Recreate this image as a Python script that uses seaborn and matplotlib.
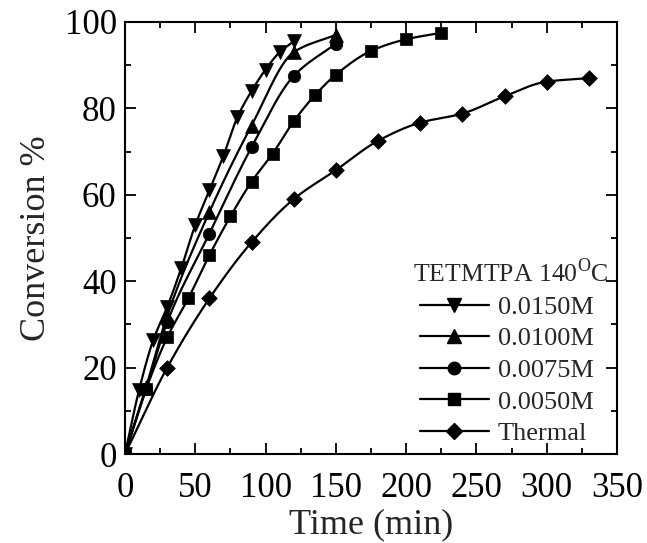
import numpy as np
import pandas as pd
import matplotlib
matplotlib.use("Agg")
import matplotlib.pyplot as plt
from matplotlib.lines import Line2D
from matplotlib.ticker import MultipleLocator
import seaborn as sns

# Conversion (%) vs time (min) for each initiator concentration
t_0150 = [0, 10, 20, 30, 40, 50, 60, 70, 80, 90, 100, 110, 120]
c_0150 = [0, 14.8, 26.3, 34, 43, 53, 61, 69, 78, 84, 89, 93, 95.5]

t_0100 = [0, 15, 30, 60, 90, 120, 150]
c_0100 = [0, 15.5, 32, 56, 76, 93, 97]

t_0075 = [0, 15, 30, 60, 90, 120, 150]
c_0075 = [0, 15, 30.5, 51, 71, 87.5, 95]

t_0050 = [0, 15, 30, 45, 60, 75, 90, 105, 120, 135, 150, 175, 200, 225]
c_0050 = [0, 15, 27, 36, 46, 55, 63, 69.5, 77, 83, 87.8, 93.3, 96, 97.5]

t_thermal = [0, 30, 60, 90, 120, 150, 180, 210, 240, 270, 300, 330]
c_thermal = [0, 20, 36, 49, 59, 65.7, 72.5, 76.7, 78.8, 82.8, 86.2, 87]

labels = ["0.0150M", "0.0100M", "0.0075M", "0.0050M", "Thermal"]
markers = ["v", "^", "o", "s", "D"]
marker_sizes = [10, 10, 9, 8, 8]
legend_title = "TETMTPA 140$^{\\mathrm{O}}$C"

series = [(t_0150, c_0150), (t_0100, c_0100), (t_0075, c_0075),
          (t_0050, c_0050), (t_thermal, c_thermal)]


def pchip(x, y, n=300):
    """Monotone cubic Hermite curve through the points."""
    x = np.asarray(x, float)
    y = np.asarray(y, float)
    h = np.diff(x)
    d = np.diff(y) / h
    m = np.zeros_like(y)
    m[0], m[-1] = d[0], d[-1]
    for k in range(1, len(x) - 1):
        if d[k - 1] * d[k] <= 0:
            m[k] = 0
        else:
            w1 = 2 * h[k] + h[k - 1]
            w2 = h[k] + 2 * h[k - 1]
            m[k] = (w1 + w2) / (w1 / d[k - 1] + w2 / d[k])
    xs = np.linspace(x[0], x[-1], n)
    idx = np.clip(np.searchsorted(x, xs) - 1, 0, len(x) - 2)
    s = (xs - x[idx]) / h[idx]
    h00 = 2 * s**3 - 3 * s**2 + 1
    h10 = s**3 - 2 * s**2 + s
    h01 = -2 * s**3 + 3 * s**2
    h11 = s**3 - s**2
    ys = (h00 * y[idx] + h10 * h[idx] * m[idx] + h01 * y[idx + 1]
          + h11 * h[idx] * m[idx + 1])
    return xs, ys


sns.set_style("ticks")
plt.rcParams["font.family"] = ["Liberation Serif", "DejaVu Serif"]
plt.rcParams["mathtext.fontset"] = "custom"
plt.rcParams["mathtext.rm"] = "Liberation Serif"

fig = plt.figure(figsize=(6.47, 5.43), dpi=100)
ax = fig.add_axes([0.1932, 0.1639, 0.7604, 0.7956])

for (t, c), mk, ms in zip(series, markers, marker_sizes):
    xs, ys = pchip(t, c)
    curve = pd.DataFrame({"t": xs, "c": ys})
    pts = pd.DataFrame({"t": t, "c": c})
    sns.lineplot(data=curve, x="t", y="c", ax=ax, color="black",
                 linewidth=1.6, sort=False, estimator=None)
    sns.scatterplot(data=pts, x="t", y="c", ax=ax, marker=mk, s=ms**2,
                    color="black", edgecolor="black", linewidth=0.5,
                    zorder=3)

ax.set_xlim(0, 350)
ax.set_ylim(0, 100)
ax.xaxis.set_major_locator(MultipleLocator(50))
ax.xaxis.set_minor_locator(MultipleLocator(25))
ax.yaxis.set_major_locator(MultipleLocator(20))
ax.yaxis.set_minor_locator(MultipleLocator(10))
ax.tick_params(which="both", direction="in", top=True, right=True,
               width=1.3, colors="black", labelsize=25)
ax.tick_params(axis="x", which="major", pad=13)
ax.tick_params(axis="y", which="major", pad=6)
ax.tick_params(which="major", length=8)
ax.tick_params(which="minor", length=4.5)
for sp in ax.spines.values():
    sp.set_linewidth(1.5)
    sp.set_color("black")

ax.set_xlabel("Time (min)", fontsize=26, labelpad=2)
ax.set_ylabel("Conversion %", fontsize=26, labelpad=8)

handles = [Line2D([0], [0], color="black", linewidth=1.6, marker=mk,
                  markersize=ms, markerfacecolor="black",
                  markeredgecolor="black")
           for mk, ms in zip(markers, marker_sizes)]
leg = ax.legend(handles, labels, loc="lower left",
                bbox_to_anchor=(0.60, 0.02), frameon=False, fontsize=19,
                handlelength=2.6, handletextpad=0.35, labelspacing=0.31,
                borderaxespad=0.0, borderpad=0.0)
ax.text(0.982, 0.421, legend_title, transform=ax.transAxes, ha="right",
        va="center", fontsize=18.5)

fig.savefig("out.png", dpi=100)
